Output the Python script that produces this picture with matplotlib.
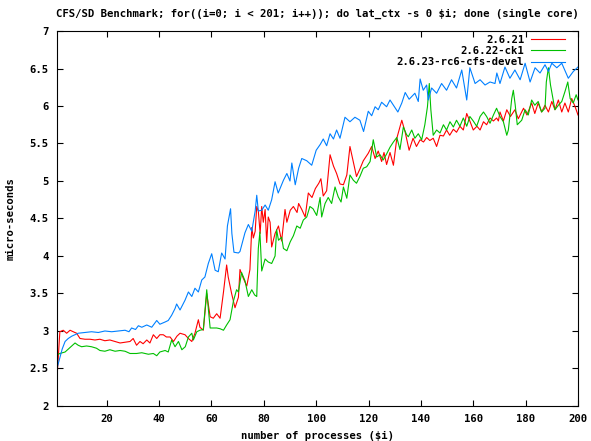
import matplotlib
matplotlib.use('Agg')
import matplotlib.pyplot as plt

# 2.6.21
x_red = [1, 2.1, 3.4, 4.7, 6, 7.2, 8.5, 9.8, 11.7, 13.6, 15.5, 17.4, 19.3, 21.2, 23.2, 25.1,
         27, 28.9, 30.1, 31.4, 32.7, 33.9, 35.3, 36.5, 37.8, 39.1, 40.3, 41.6, 42.8, 44.2,
         45.5, 46.8, 48, 49.9, 51.2, 52.5, 53.7, 55, 55.6, 56.9, 58.2, 59.5, 60.7, 62, 63.3,
         64.6, 65.8, 66.4, 67.7, 69, 70.3, 70.9, 72.2, 73.5, 74.7, 75.4, 76, 76.7, 77.3, 77.9,
         78.6, 79.2, 79.8, 80.5, 81.1, 81.7, 82.4, 83, 84.3, 85.6, 86.8, 88.1, 88.8, 90.1,
         91.3, 92.7, 93.3, 94.5, 95.8, 97, 98.4, 99.7, 101, 101.8, 102.7, 104, 105.3, 106.6,
         107.8, 109.1, 110.4, 111.7, 112.9, 114.2, 115.4, 116.7, 118, 119.9, 121.2, 122.5,
         123.7, 125, 125.9, 126.9, 128.2, 129.5, 130.8, 132.7, 134, 135.5, 137, 138.3, 139.7,
         141, 142.2, 143.4, 144.7, 146, 147.3, 148.6, 149.8, 151, 152.4, 153.6, 154.9, 156.2,
         157.5, 158.8, 160, 161.4, 162.6, 163.9, 165.1, 166.4, 167.7, 168.9, 169.6, 170.2,
         171.5, 172.8, 174.2, 175.9, 177.2, 179.2, 180.5, 182.3, 183.5, 184.8, 186.1, 187.4,
         188.7, 190, 191.2, 192.5, 193.8, 195, 196.3, 197.6, 198.9, 200]
y_red = [2.37, 2.99, 3.01, 2.97, 3.01, 2.99, 2.97, 2.90, 2.89, 2.89, 2.88, 2.89, 2.87, 2.88, 2.86, 2.84,
         2.85, 2.86, 2.90, 2.81, 2.86, 2.83, 2.88, 2.84, 2.95, 2.90, 2.95, 2.95, 2.92, 2.92,
         2.86, 2.93, 2.97, 2.95, 2.90, 2.86, 2.97, 3.15, 3.05, 3.01, 3.50, 3.19, 3.17, 3.23, 3.17,
         3.52, 3.88, 3.72, 3.50, 3.31, 3.45, 3.82, 3.70, 3.60, 3.82, 4.38, 4.24, 4.33, 4.66, 4.60,
         4.30, 4.66, 4.45, 4.62, 4.18, 4.52, 4.45, 4.12, 4.30, 4.40, 4.20, 4.62, 4.45, 4.61,
         4.66, 4.58, 4.70, 4.62, 4.52, 4.84, 4.78, 4.90, 4.97, 5.03, 4.80, 4.87, 5.35, 5.20,
         5.10, 4.96, 4.95, 5.08, 5.46, 5.25, 5.06, 5.16, 5.27, 5.37, 5.46, 5.30,
         5.40, 5.26, 5.38, 5.22, 5.38, 5.21, 5.57, 5.81, 5.65, 5.41, 5.57, 5.46, 5.55,
         5.52, 5.58, 5.54, 5.57, 5.46, 5.61, 5.60, 5.68, 5.61, 5.69, 5.65, 5.73, 5.68,
         5.90, 5.79, 5.68, 5.73, 5.68, 5.79, 5.75, 5.84, 5.80, 5.84, 5.80, 5.92,
         5.80, 5.95, 5.86, 5.95, 5.83, 5.97, 5.88, 6.04, 5.90, 6.04, 5.92, 6.01,
         5.92, 6.06, 5.95, 6.08, 5.92, 6.04, 5.92, 6.10, 5.99, 5.88]

# 2.6.22-ck1
x_green = [1, 2.1, 4.1, 6, 7.9, 9.1, 10.4, 12.3, 14.2, 16.1, 17.4, 19.3, 21.2, 23.2, 25.1, 27,
           28.9, 31.4, 33.4, 35.9, 37.8, 39.1, 40.3, 42.3, 43.5, 44.8, 46.1, 47.4, 48.7, 50,
           51.2, 52.5, 53.1, 54.4, 55.6, 56.9, 58.2, 58.8, 59.5, 60.7, 62, 63.3, 64.6, 65.8,
           67.1, 68.4, 69.6, 70.3, 71.5, 72.8, 74.1, 75.4, 76.5, 77.3, 77.9, 78.5, 79.2, 80.5,
           81.7, 83, 84.3, 84.9, 85.6, 86.8, 87.5, 88.8, 90.1, 91.3, 92.6, 93.9, 95.1, 96.4,
           97.6, 98.8, 100.2, 101.5, 102.1, 103.4, 104.6, 105.9, 107.2, 108.4, 109.5, 110.4,
           111.7, 112.9, 114.2, 115.4, 116.7, 118, 119.3, 120.6, 121.8, 123.1, 124.4, 125.6,
           126.9, 128.2, 129.5, 130.8, 132, 133.3, 134.5, 135.2, 136.5, 137.7, 139, 140.3,
           141.5, 142.5, 143.2, 143.8, 144.7, 146, 147.3, 148.6, 149.8, 151.1, 152.4, 153.6,
           154.9, 156.2, 157.5, 158.7, 160, 161.3, 162.6, 163.9, 165.1, 166.4, 167.7, 168.9,
           170.2, 171.5, 172.8, 173.4, 174.7, 175.3, 176, 176.8, 178.5, 179.8, 181, 182.3,
           183.5, 184.8, 186.1, 187.4, 187.9, 188.7, 189.5, 191.2, 192.5, 193.8, 195, 196.1,
           197, 198.2, 199.3, 200]
y_green = [2.68, 2.70, 2.72, 2.78, 2.84, 2.81, 2.79, 2.80, 2.79, 2.77, 2.74, 2.73, 2.75, 2.73, 2.74, 2.73,
           2.70, 2.70, 2.71, 2.69, 2.70, 2.67, 2.72, 2.74, 2.72, 2.88, 2.79, 2.86, 2.75, 2.79,
           2.92, 2.97, 2.88, 2.99, 3.01, 3.02, 3.55, 3.30, 3.04, 3.04, 3.04, 3.03, 3.01, 3.08,
           3.15, 3.40, 3.55, 3.52, 3.78, 3.67, 3.46, 3.55, 3.48, 3.46, 4.10, 4.32, 3.80, 3.96,
           3.92, 3.90, 4.00, 4.35, 4.21, 4.25, 4.10, 4.07, 4.19, 4.27, 4.40, 4.37, 4.48, 4.52,
           4.66, 4.63, 4.54, 4.78, 4.52, 4.70, 4.78, 4.70, 4.92, 4.79, 4.72, 4.92,
           4.77, 5.08, 5.01, 4.97, 5.06, 5.17, 5.19, 5.26, 5.55, 5.32, 5.35, 5.28,
           5.36, 5.45, 5.52, 5.58, 5.42, 5.72, 5.62, 5.59, 5.68, 5.57, 5.63, 5.55,
           5.75, 5.99, 6.30, 5.95, 5.61, 5.68, 5.64, 5.75, 5.68, 5.79, 5.72, 5.81,
           5.73, 5.84, 5.73, 5.86, 5.80, 5.73, 5.86, 5.92, 5.86, 5.77, 5.88, 5.97,
           5.86, 5.79, 5.61, 5.68, 6.10, 6.21, 6.02, 5.75, 5.81, 5.95, 5.88, 6.08,
           6.01, 6.06, 5.92, 5.97, 6.32, 6.51, 6.28, 5.95, 6.01, 6.06, 6.19, 6.32,
           6.10, 6.04, 6.15, 6.08]

# 2.6.23-rc6-cfs-devel
x_blue = [1, 2.1, 3, 4.1, 5.3, 6.6, 9.1, 11.7, 14.2, 16.8, 19.3, 21.9, 24.4, 27, 28.5, 29.5, 31,
          32.1, 33.4, 35.3, 37.2, 39.1, 40.3, 42.3, 43.5, 44.8, 46.1, 46.7, 48, 49.9, 51.2,
          52.5, 53.7, 55, 56.3, 57.5, 58.8, 60.1, 61.4, 62.6, 63.9, 65.2, 66.1, 67.3, 67.8,
          68.6, 70.3, 70.9, 72.8, 74.1, 75.4, 76.7, 77.3, 77.9, 79.2, 80.5, 81.7, 83, 84.3,
          85.5, 87.5, 88.8, 90, 90.7, 92, 93.3, 94.5, 96.4, 98.3, 100, 101.6, 102.7, 104,
          105.3, 106.6, 107.8, 109.1, 111, 112.9, 114.8, 116.7, 118.1, 119.9, 121.2, 122.5,
          123.7, 125, 126.9, 128.2, 129.5, 131.2, 132.7, 134, 135.5, 137.7, 139, 139.7, 140.9,
          142.2, 142.8, 144.1, 146, 147.9, 149.8, 151.7, 153.6, 155.6, 157.5, 158.7, 160.7,
          162.6, 164.5, 166.4, 168.3, 169, 170.2, 172.1, 174, 175.9, 177.9, 179.8, 181.7,
          183.6, 185.5, 187.4, 188.7, 190, 191.9, 193.8, 196.3, 198.2, 200]
y_blue = [2.50, 2.64, 2.76, 2.86, 2.90, 2.93, 2.97, 2.98, 2.99, 2.98, 3.00, 2.99, 3.00, 3.01, 2.99, 3.04, 3.02,
          3.07, 3.05, 3.08, 3.05, 3.14, 3.09, 3.12, 3.14, 3.21, 3.30, 3.36, 3.28, 3.41, 3.52,
          3.46, 3.57, 3.52, 3.68, 3.72, 3.90, 4.03, 3.81, 3.79, 4.04, 3.96, 4.40, 4.63, 4.30,
          4.05, 4.04, 4.06, 4.31, 4.42, 4.33, 4.60, 4.81, 4.60, 4.61, 4.68, 4.61, 4.75, 4.99,
          4.84, 5.01, 5.10, 5.00, 5.24, 4.95, 5.17, 5.30, 5.27, 5.21, 5.41, 5.49, 5.56, 5.47,
          5.63, 5.56, 5.68, 5.57, 5.85, 5.79, 5.85, 5.81, 5.66, 5.93, 5.87, 5.99,
          5.95, 6.05, 5.99, 6.08, 6.01, 5.92, 6.04, 6.18, 6.09, 6.17, 6.06, 6.36, 6.21,
          6.28, 6.08, 6.24, 6.17, 6.30, 6.21, 6.35, 6.24, 6.48, 6.08, 6.51, 6.30,
          6.35, 6.28, 6.32, 6.30, 6.44, 6.30, 6.52, 6.37, 6.48, 6.35, 6.57, 6.32,
          6.51, 6.44, 6.55, 6.46, 6.57, 6.51, 6.57, 6.37, 6.46, 6.52]

font = {'family': 'DejaVu Sans Mono', 'weight': 'bold', 'size': 7.7}

fig = plt.figure(figsize=(5.91, 4.41), dpi=100)
ax = fig.add_axes([0.0964, 0.0794, 0.8816, 0.8503])

ax.plot(x_red, y_red, color='#ff0000', lw=0.8, label='2.6.21')
ax.plot(x_green, y_green, color='#00c000', lw=0.8, label='2.6.22-ck1')
ax.plot(x_blue, y_blue, color='#0080ff', lw=0.8, label='2.6.23-rc6-cfs-devel')

ax.set_xlim(1, 200)
ax.set_ylim(2, 7)
ax.set_xticks(range(20, 201, 20))
ax.set_yticks([2, 2.5, 3, 3.5, 4, 4.5, 5, 5.5, 6, 6.5, 7])
ax.set_yticklabels(['2', '2.5', '3', '3.5', '4', '4.5', '5', '5.5', '6', '6.5', '7'])
ax.tick_params(direction='in', top=True, right=True, length=4, width=0.8, pad=6)
for lab in ax.get_xticklabels() + ax.get_yticklabels():
    lab.set_fontproperties(font)

ax.set_title(r'CFS/SD Benchmark; for((i=0; i < 201; i++)); do lat_ctx -s 0 \$i; done (single core)',
             fontdict=font, pad=10)
ax.set_xlabel(r'number of processes (\$i)', fontdict=font, labelpad=5)
ax.set_ylabel('micro-seconds', fontdict=font, labelpad=10)

leg = ax.legend(loc='upper right', bbox_to_anchor=(0.975, 0.99), frameon=False,
                markerfirst=False, alignment='right', prop=font, handlelength=3.2,
                labelspacing=0.12, handletextpad=0.6, borderpad=0, borderaxespad=0)

fig.savefig('out.png', dpi=100)
